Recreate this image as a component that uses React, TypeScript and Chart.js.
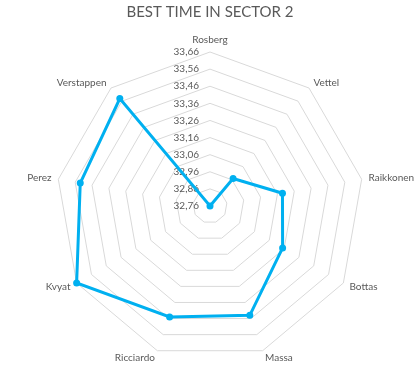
import React, { useEffect, useRef } from 'react';
import { Chart, registerables } from 'chart.js';

Chart.register(...registerables);

const chartTitle = 'BEST TIME IN SECTOR 2';
const drivers = ['Rosberg', 'Vettel', 'Raikkonen', 'Bottas', 'Massa', 'Ricciardo', 'Kvyat', 'Perez', 'Verstappen'];
const sector2Times = [32.76, 32.97, 33.19, 33.25, 33.44, 33.45, 33.66, 33.53, 33.58];
const scaleMin = 32.76;
const scaleMax = 33.66;
const scaleStep = 0.1;

const TEXT_COLOR = '#595959';
const FONT = 'Lato, "Open Sans", sans-serif';

const formatTick = (v: number) => v.toFixed(2).replace('.', ',');

const excelRadarPlugin = {
  id: 'excelRadar',
  afterLayout(chart: any) {
    const s = chart.scales.r;
    s.xCenter = Math.round(chart.width / 2);
    s.yCenter = 206;
    s.drawingArea = 154;
  },
  beforeDatasetsDraw(chart: any) {
    const s = chart.scales.r;
    const ctx = chart.ctx;
    ctx.save();
    ctx.font = `10px ${FONT}`;
    ctx.fillStyle = TEXT_COLOR;
    ctx.textAlign = 'right';
    ctx.textBaseline = 'middle';
    s.ticks.forEach((t: any) => {
      const d = s.getDistanceFromCenterForValue(t.value);
      ctx.fillText(formatTick(t.value), s.xCenter - 11, s.yCenter - d);
    });
    ctx.restore();
  },
  afterDraw(chart: any) {
    const s = chart.scales.r;
    const ctx = chart.ctx;
    ctx.save();
    ctx.font = `10px ${FONT}`;
    ctx.fillStyle = TEXT_COLOR;
    drivers.forEach((name, i) => {
      const p = s.getPointPosition(i, s.drawingArea + 7);
      const dx = p.x - s.xCenter;
      const dy = p.y - s.yCenter;
      const vertical = Math.abs(dx) < 1;
      ctx.textAlign = vertical ? 'center' : dx > 0 ? 'left' : 'right';
      ctx.textBaseline = vertical ? (dy < 0 ? 'bottom' : 'top') : 'middle';
      ctx.fillText(name, p.x, p.y);
    });
    ctx.restore();
  },
};

export default function App() {
  const canvasRef = useRef<HTMLCanvasElement | null>(null);

  useEffect(() => {
    if (!canvasRef.current) return;
    const chart = new Chart(canvasRef.current, {
      type: 'radar',
      data: {
        labels: drivers,
        datasets: [
          {
            label: chartTitle,
            data: sector2Times,
            borderColor: '#00B0F0',
            backgroundColor: '#00B0F0',
            pointBackgroundColor: '#00B0F0',
            pointBorderColor: '#00B0F0',
            borderWidth: 3,
            pointRadius: 3.5,
            pointBorderWidth: 0,
            fill: false,
            tension: 0,
            clip: false as any,
          },
        ],
      },
      options: {
        animation: false,
        responsive: true,
        maintainAspectRatio: false,
        plugins: {
          legend: { display: false },
          tooltip: { enabled: false },
          title: {
            display: true,
            text: chartTitle,
            color: TEXT_COLOR,
            font: { family: FONT, size: 15, weight: 'normal' },
            padding: { top: 3, bottom: 6 },
          },
        },
        scales: {
          r: {
            min: scaleMin,
            max: scaleMax,
            ticks: { stepSize: scaleStep, display: false },
            grid: { color: '#d9d9d9', lineWidth: 1 },
            angleLines: { display: false },
            pointLabels: { display: false },
          },
        },
      },
      plugins: [excelRadarPlugin],
    });
    return () => chart.destroy();
  }, []);

  return (
    <div style={{ position: 'absolute', left: 0, top: 0, width: 420, height: 377, background: '#fff' }}>
      <canvas ref={canvasRef} />
    </div>
  );
}
